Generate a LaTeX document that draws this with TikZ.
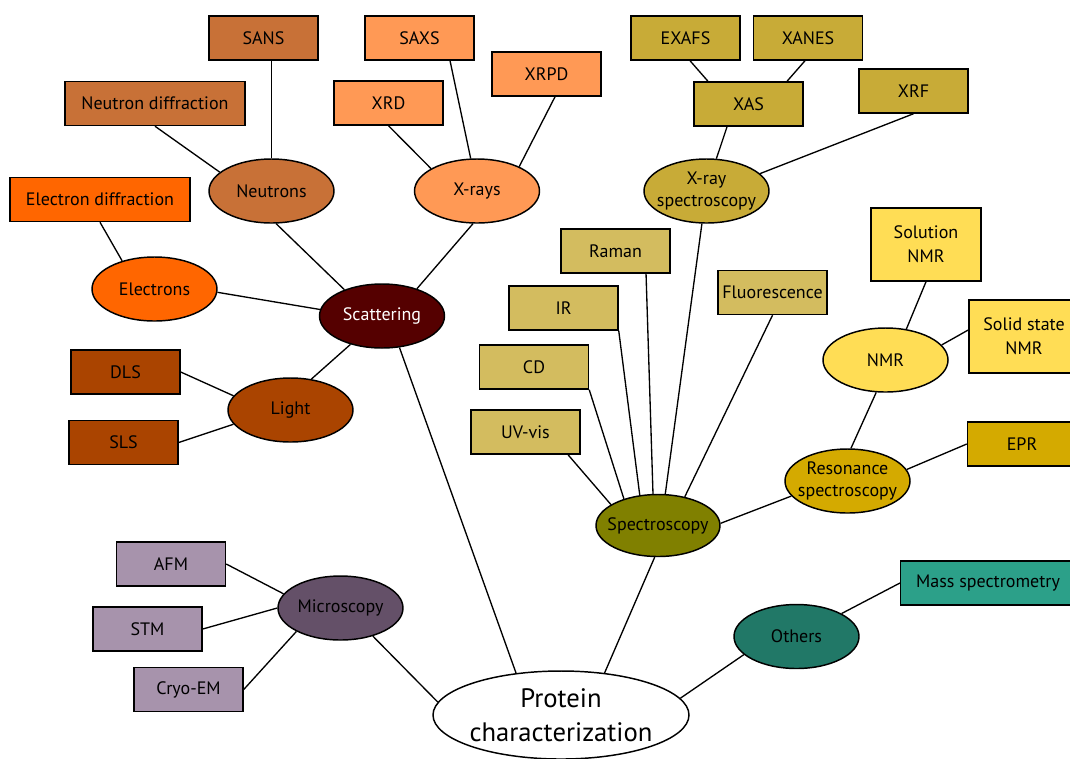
\documentclass[tikz,border=0pt]{standalone}
\usepackage{fontspec}
\setmainfont{PT Sans}
\usetikzlibrary{shapes.geometric}
\definecolor{cneut}{HTML}{C87137}
\definecolor{celec}{HTML}{FF6600}
\definecolor{cxray}{HTML}{FF9955}
\definecolor{cscat}{HTML}{550000}
\definecolor{clight}{HTML}{AA4400}
\definecolor{cxas}{HTML}{C8AB37}
\definecolor{cspbox}{HTML}{D3BC5F}
\definecolor{cspec}{HTML}{808000}
\definecolor{creso}{HTML}{D4AA00}
\definecolor{cnmr}{HTML}{FFDD55}
\definecolor{cmic}{HTML}{645068}
\definecolor{cmicbox}{HTML}{A793AC}
\definecolor{coth}{HTML}{217867}
\definecolor{cmass}{HTML}{2CA089}
\begin{document}
\begin{tikzpicture}[x=0.75pt,y=-0.75pt,
  techbox/.style={draw=black, line width=1.1pt, minimum width=81.75pt, minimum height=33pt,
    inner sep=0pt, font=\fontsize{13.5}{18}\selectfont, align=center},
  widebox/.style={techbox, minimum width=135pt},
  tallbox/.style={techbox, minimum width=82.5pt, minimum height=54.75pt},
  topic/.style={ellipse, draw=black, line width=1.1pt, minimum width=93.75pt, minimum height=48pt,
    inner sep=-12pt, font=\fontsize{13.5}{17}\selectfont, align=center},
  link/.style={draw=black, line width=1pt}]
\useasboundingbox (0,0) rectangle (1070,758);

% Scattering branch
\node[topic, fill=cscat, text=white] (scat) at (382,316) {Scattering};
\node[topic, fill=cneut] (neut) at (271.5,191) {Neutrons};
\node[techbox, fill=cneut] (sans) at (263.5,38) {SANS};
\node[widebox, fill=cneut] (ndiff) at (155,103.5) {Neutron diffraction};
\node[topic, fill=celec] (elec) at (154.5,289) {Electrons};
\node[widebox, fill=celec] (ediff) at (100,199.5) {Electron diffraction};
\node[topic, fill=cxray] (xrays) at (477,191) {X-rays};
\node[techbox, fill=cxray] (saxs) at (419.5,38) {SAXS};
\node[techbox, fill=cxray] (xrd) at (388.5,103) {XRD};
\node[techbox, fill=cxray] (xrpd) at (546.5,74) {XRPD};
\node[topic, fill=clight] (light) at (290.5,410) {Light};
\node[techbox, fill=clight] (dls) at (125.5,372) {DLS};
\node[techbox, fill=clight] (sls) at (123.5,442.5) {SLS};

% X-ray spectroscopy
\node[topic, fill=cxas] (xspec) at (706.5,191) {X-ray\\spectroscopy};
\node[techbox, fill=cxas] (exafs) at (685.5,38) {EXAFS};
\node[techbox, fill=cxas] (xanes) at (808,38) {XANES};
\node[techbox, fill=cxas] (xas) at (748.5,104) {XAS};
\node[techbox, fill=cxas] (xrf) at (913.5,91) {XRF};

% Spectroscopy
\node[topic, fill=cspec, minimum width=93pt, minimum height=46.5pt] (spec) at (658,525.5) {Spectroscopy};
\node[techbox, fill=cspbox] (raman) at (615.5,251) {Raman};
\node[techbox, fill=cspbox] (ir) at (563.5,308) {IR};
\node[techbox, fill=cspbox] (cd) at (534,367) {CD};
\node[techbox, fill=cspbox] (uv) at (525.5,432) {UV-vis};
\node[techbox, fill=cspbox] (fluo) at (772.5,292.5) {Fluorescence};

% Resonance
\node[topic, fill=creso] (reso) at (847.5,481) {Resonance\\spectroscopy};
\node[techbox, fill=creso] (epr) at (1022,444) {EPR};
\node[topic, fill=cnmr] (nmr) at (885.5,360) {NMR};
\node[tallbox, fill=cnmr] (solnmr) at (926,244.5) {Solution\\NMR};
\node[tallbox, fill=cnmr] (solid) at (1024,336.5) {Solid state\\NMR};

% Microscopy
\node[topic, fill=cmic] (micro) at (340.5,608) {Microscopy};
\node[techbox, fill=cmicbox] (afm) at (171,564) {AFM};
\node[techbox, fill=cmicbox] (stm) at (147.5,629) {STM};
\node[techbox, fill=cmicbox] (cryo) at (188.5,689.5) {Cryo-EM};

% Others
\node[topic, fill=coth] (oth) at (796.5,636.5) {Others};
\node[techbox, fill=cmass, minimum width=131pt] (mass) at (988,583) {Mass spectrometry};

% Root
\node[topic, fill=white, minimum width=192pt, minimum height=66pt, inner sep=-25pt,
  font=\fontsize{20}{25.5}\selectfont] (prot) at (561,715) {Protein\\characterization};

% Connectors
\draw[link] (neut.north) -- (neut.north |- sans.south);
\draw[link] (ndiff.south) -- (neut.160);
\draw[link] (neut.-82) -- (scat.145);
\draw[link] (ediff.south) -- (elec.139);
\draw[link] (elec.-3) -- (scat.174);
\draw[link] (xrd.south) -- (xrays.154);
\draw[link] ([xshift=22.9pt]saxs.south) -- (xrays.101);
\draw[link] ([xshift=6.4pt]xrpd.south) -- (xrays.30);
\draw[link] (xrays.-97) -- (scat.38);
\draw[link] (light.56) -- (scat.-138);
\draw[link] (dls.east) -- (light.166);
\draw[link] (sls.east) -- (light.194);
\draw[link] (scat.-61) -- (prot.137);

\draw[link] ([xshift=3.4pt]exafs.south) -- ([xshift=-30.4pt]xas.north);
\draw[link] ([xshift=-2.25pt]xanes.south) -- ([xshift=28.9pt]xas.north);
\draw[link] ([xshift=-16.1pt]xas.south) -- (xspec.73);
\draw[link] (xrf.south) -- (xspec.18);
\draw[link] (xspec.-98) -- (spec.77);

\draw[link] ([xshift=22.9pt]raman.south) -- (spec.99);
\draw[link] (ir.south east) -- (spec.121);
\draw[link] (cd.south east) -- (spec.142);
\draw[link] ([xshift=31.9pt]uv.south) -- (spec.156);
\draw[link] (fluo.south) -- (spec.47);
\draw[link] (spec.2) -- (reso.195);
\draw[link] (spec.-96) -- (prot.44);

\draw[link] (nmr.-106) -- (reso.84);
\draw[link] (solnmr.south) -- (nmr.56);
\draw[link] ([yshift=4.9pt]solid.west) -- (nmr.15);
\draw[link] (epr.west) -- (reso.11);

\draw[link] (micro.-41) -- (prot.174);
\draw[link] (afm.east) -- (micro.166);
\draw[link] (stm.east) -- (micro.west);
\draw[link] (cryo.east) -- (micro.208);

\draw[link] (oth.199) -- (prot.8);
\draw[link] (mass.west) -- (oth.27);
\end{tikzpicture}
\end{document}
